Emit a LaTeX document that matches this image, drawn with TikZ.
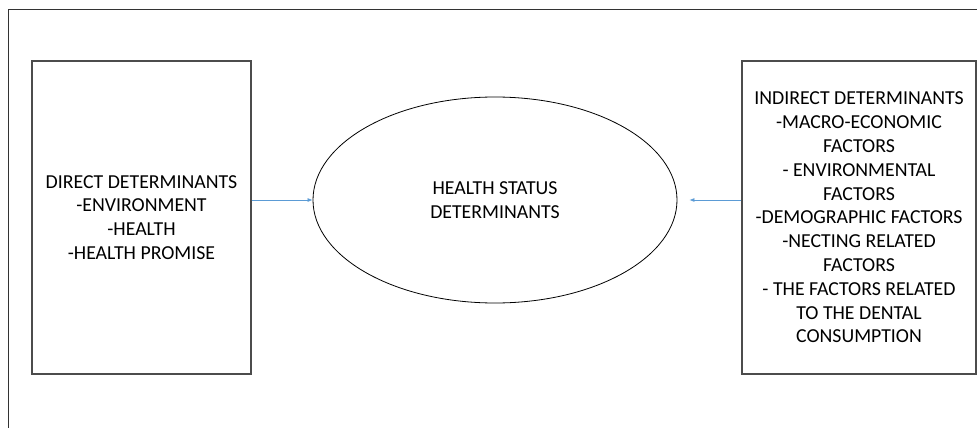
\documentclass[tikz,border=0pt]{standalone}
\usepackage{fontspec}
\setmainfont{Carlito}
\usetikzlibrary{arrows.meta, positioning, shapes.geometric}

\begin{document}
\begin{tikzpicture}[
    x=1pt, y=-1pt,
    box/.style={draw=black!70, line width=1.2pt, minimum width=219pt,
                minimum height=313pt, align=center, inner sep=0pt,
                font=\fontsize{19.8}{23.8}\selectfont},
    status/.style={draw, ellipse, line width=0.8pt, minimum width=364pt,
                   minimum height=206pt, inner sep=0pt, align=center,
                   font=\fontsize{19.8}{24.5}\selectfont},
    arr/.style={-{Latex[length=5pt, width=4pt]}, draw=arrblue, line width=0.7pt},
    frame/.style={draw=black!80, line width=1pt}
  ]
  \definecolor{arrblue}{HTML}{5B9BD5}
  \useasboundingbox (0,0) rectangle (977,428);

  % outer frame, cut off at right and bottom
  \coordinate (fbot) at (8,428);
  \coordinate (fcorner) at (8,10);
  \coordinate (fright) at (977,10);
  \draw[frame] (fbot) -- (fcorner) -- (fright);

  \node[box] (direct) at (141.5,217.5) {DIRECT DETERMINANTS\\-ENVIRONMENT\\-HEALTH\\-HEALTH PROMISE};
  \node[status] (hsd) at (495,200) {HEALTH STATUS\\DETERMINANTS};
  \node[box, minimum width=234pt] (indirect) at (859,217.5)
    {INDIRECT DETERMINANTS\\-MACRO-ECONOMIC\\FACTORS\\- ENVIRONMENTAL\\FACTORS\\-DEMOGRAPHIC FACTORS\\-NECTING RELATED\\FACTORS\\- THE FACTORS RELATED\\TO THE DENTAL\\CONSUMPTION};

  \draw[arr] (direct.east |- hsd.west) -- (hsd.west);
  \draw[arr, shorten >=12pt] (indirect.west |- hsd.east) -- (hsd.east);
\end{tikzpicture}
\end{document}
